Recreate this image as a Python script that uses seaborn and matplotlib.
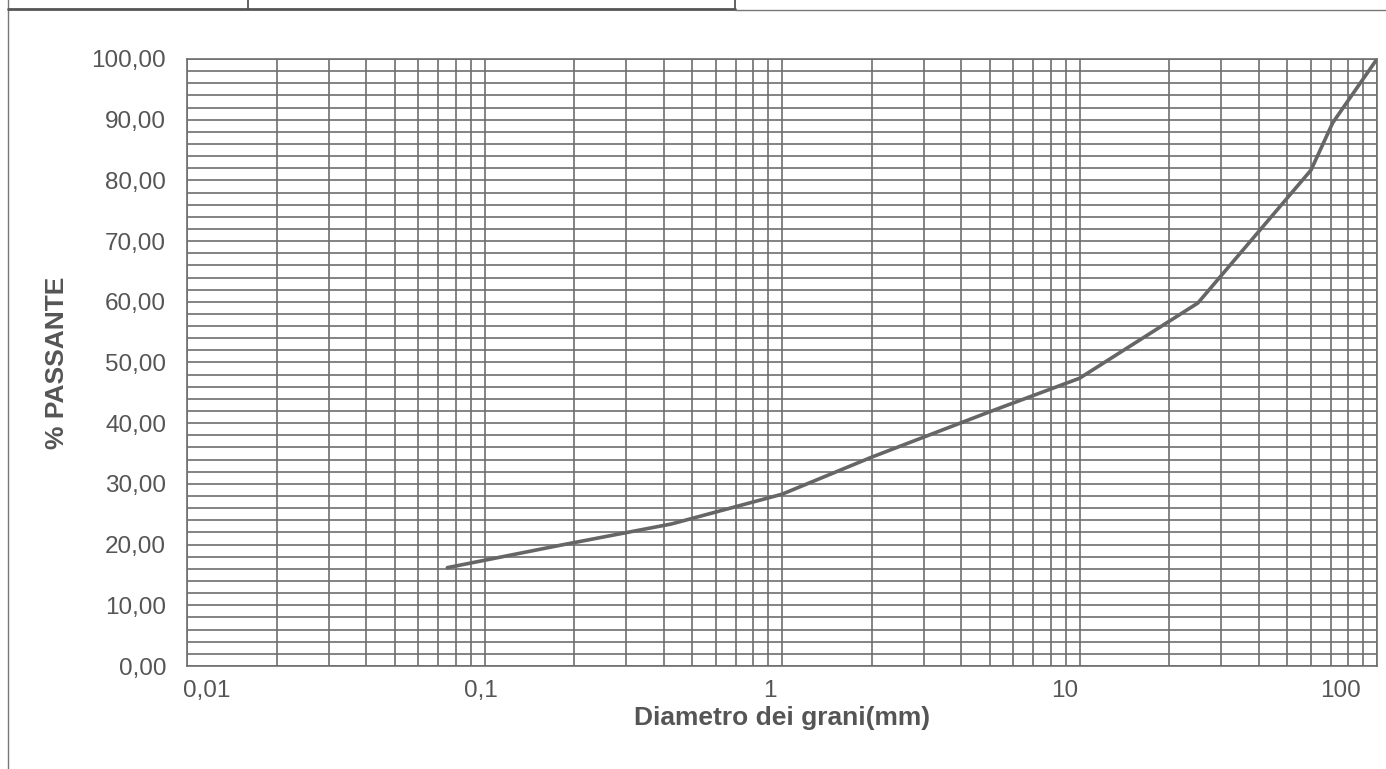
"""
Curva granulometrica: % passante vs diametro dei grani (scala log).
"""

import numpy as np
import pandas as pd
import seaborn as sns
import matplotlib.pyplot as plt
from matplotlib.lines import Line2D
from matplotlib.ticker import FixedLocator, FuncFormatter
import matplotlib.transforms as mtransforms

# dati
diametro_mm = [0.075, 0.18, 0.425, 1.0, 2.0, 5.0, 10.0, 25.0, 60.0, 71.0, 100.0]
passante_pct = [16.2, 19.9, 23.4, 28.3, 34.4, 41.9, 47.4, 59.8, 81.7, 89.5, 100.0]

x_ticks = [0.01, 0.1, 1, 10, 100]
x_tick_labels = ["0,01", "0,1", "1", "10", "100"]
# spostamento orizzontale delle etichette (px), come nel foglio originale
x_label_shift = [20, -4, -12, -15, -36]

grid_col = "#6e6e6e"
line_col = "#666666"
text_col = "#555555"

sns.set_theme(style="white")
plt.rcParams["font.family"] = ["Liberation Sans", "DejaVu Sans"]

df = pd.DataFrame({"diametro": diametro_mm, "passante": passante_pct})

fig = plt.figure(figsize=(13.86, 7.69), dpi=100)
fig.patch.set_facecolor("white")
ax = fig.add_axes([187 / 1386, 103 / 769, 1190 / 1386, 607 / 769])

sns.lineplot(data=df, x="diametro", y="passante", ax=ax,
             color=line_col, linewidth=2.6, sort=True, estimator=None, zorder=3)

ax.set_xscale("log")
ax.set_xlim(0.01, 100)
ax.set_ylim(0, 100)

# griglia log: decadi + sottodivisioni 2..9
minor_x = [m * 10.0 ** e for e in range(-2, 2) for m in range(2, 10)]
ax.xaxis.set_major_locator(FixedLocator(x_ticks))
ax.xaxis.set_minor_locator(FixedLocator(minor_x))
ax.yaxis.set_major_locator(FixedLocator(np.arange(0, 101, 10)))
ax.yaxis.set_minor_locator(FixedLocator(np.arange(0, 101, 2)))

ax.grid(True, which="both", axis="both", color=grid_col, linewidth=1.2)
ax.set_axisbelow(True)

ax.set_xticklabels(x_tick_labels)
ax.yaxis.set_major_formatter(FuncFormatter(lambda v, p: f"{v:.2f}".replace(".", ",")))

ax.tick_params(axis="x", which="both", length=0, pad=10, labelsize=17.5, labelcolor=text_col)
ax.tick_params(axis="y", which="major", length=8, width=1.2, color=grid_col,
               direction="out", pad=7, labelsize=17.5, labelcolor=text_col)
ax.tick_params(axis="y", which="minor", length=0)
ax.tick_params(axis="x", which="minor", labelbottom=False)

for lab, dx in zip(ax.get_xticklabels(), x_label_shift):
    off = mtransforms.ScaledTranslation(dx / 100, 0, fig.dpi_scale_trans)
    lab.set_transform(lab.get_transform() + off)

for side in ax.spines.values():
    side.set_color(grid_col)
    side.set_linewidth(1.2)

ax.set_xlabel("Diametro dei grani(mm)", fontsize=19, fontweight="bold",
              color=text_col, labelpad=3)
ax.set_ylabel("% PASSANTE", fontsize=19, fontweight="bold", color=text_col,
              labelpad=16)

# cornice del modulo (bordo sinistro e riga superiore della tabella)
W, H = 1386, 769
def fline(x0, y0, x1, y1, lw=1.0, col="#777777"):
    fig.add_artist(Line2D([x0 / W, x1 / W], [1 - y0 / H, 1 - y1 / H],
                          color=col, linewidth=lw, transform=fig.transFigure))

fline(8, 0, 8, H, lw=1.0)
fline(8, 9, 735, 9, lw=2.0, col="#555555")
fline(735, 10, W, 10, lw=1.0)
fline(248, 0, 248, 9, lw=1.3, col="#555555")
fline(735, 0, 735, 9, lw=1.3, col="#555555")

plt.savefig("out.png", dpi=100, facecolor="white")
plt.close(fig)
